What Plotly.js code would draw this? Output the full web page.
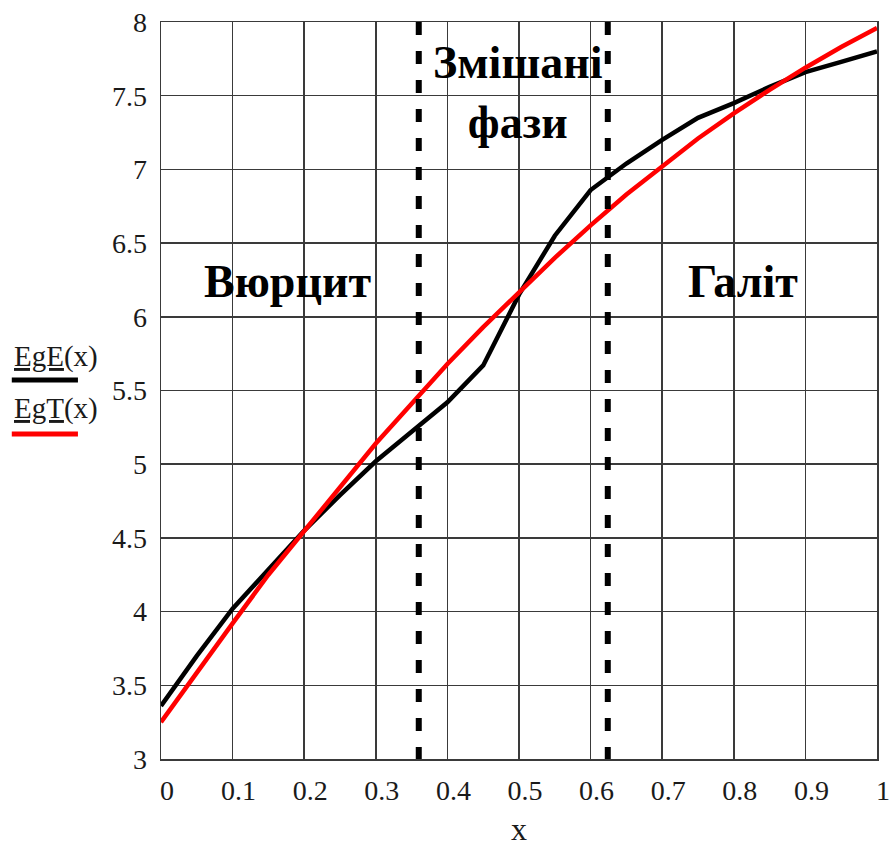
<!DOCTYPE html>
<html>
<head>
<meta charset="utf-8">
<script src="https://cdn.plot.ly/plotly-3.0.1.min.js"></script>
<style>
  html, body { margin: 0; padding: 0; background: #fff; }
  #chart { width: 891px; height: 847px; }
</style>
</head>
<body>
<div id="chart"></div>
<script>
// Composition x and band-gap values (eV)
const xValues = [0, 0.05, 0.1, 0.15, 0.2, 0.25, 0.3, 0.35, 0.4, 0.45, 0.5,
                 0.55, 0.6, 0.65, 0.7, 0.75, 0.8, 0.85, 0.9, 0.95, 1];
// Experimental band gap EgE(x)
const egE = [3.36, 3.70, 4.02, 4.29, 4.55, 4.79, 5.02, 5.22, 5.42, 5.67, 6.15,
             6.55, 6.86, 7.04, 7.20, 7.35, 7.45, 7.56, 7.66, 7.73, 7.80];
// Theoretical band gap EgT(x)
const egT = [3.25, 3.59, 3.92, 4.25, 4.55, 4.85, 5.14, 5.41, 5.68, 5.93, 6.17,
             6.40, 6.62, 6.83, 7.02, 7.21, 7.38, 7.54, 7.69, 7.83, 7.96];
const seriesNames = ['EgE(x)', 'EgT(x)'];
// Phase boundaries: wurtzite | mixed phases | rock salt
const phaseBounds = [0.36, 0.624];
const phaseLabels = ['Вюрцит', 'Змішані<br>фази', 'Галіт'];

const serif = 'Liberation Serif, Times New Roman, serif';
const textColor = '#1a1a1a';
const gridColor = '#3a3a3a';

const traces = [
  { x: xValues, y: egE, name: seriesNames[0], mode: 'lines',
    line: { color: '#000000', width: 4.5 } },
  { x: xValues, y: egT, name: seriesNames[1], mode: 'lines',
    line: { color: '#ff0000', width: 4.5 } }
];

const shapes = phaseBounds.map(b => ({
  type: 'line', xref: 'x', yref: 'y', x0: b, x1: b, y0: 8, y1: 3,
  line: { color: '#000000', width: 6, dash: '13px,16px' }
}));
// Legend swatches left of the axis
shapes.push({ type: 'line', xref: 'paper', yref: 'paper', x0: -0.2084, x1: -0.116,
  y0: 0.5142, y1: 0.5142, line: { color: '#000000', width: 5 } });
shapes.push({ type: 'line', xref: 'paper', yref: 'paper', x0: -0.2084, x1: -0.116,
  y0: 0.441, y1: 0.441, line: { color: '#ff0000', width: 5 } });

const labelFont = { family: serif, size: 46, color: '#000000', weight: 'bold' };
const annotations = [
  { x: 0.176, y: 6.24, text: '<b>' + phaseLabels[0] + '</b>' },
  { x: 0.498, y: 7.52, text: '<b>' + phaseLabels[1] + '</b>' },
  { x: 0.8126, y: 6.24, text: '<b>' + phaseLabels[2] + '</b>' }
].map(a => Object.assign({ xref: 'x', yref: 'y', showarrow: false,
  xanchor: 'center', yanchor: 'middle', font: labelFont }, a));

const legendFont = { family: serif, size: 29, color: textColor };
seriesNames.forEach((n, i) => {
  const m = n.match(/^(\w+)(.*)$/);
  annotations.push({
    xref: 'paper', yref: 'paper', x: -0.2084, y: i === 0 ? 0.546 : 0.4755,
    xanchor: 'left', yanchor: 'middle', showarrow: false,
    text: '<u>' + m[1] + '</u>' + m[2], font: legendFont
  });
});

const layout = {
  width: 891, height: 847,
  margin: { l: 161, r: 14, t: 22, b: 88 },
  paper_bgcolor: '#ffffff', plot_bgcolor: '#ffffff',
  showlegend: false,
  font: { family: serif, color: textColor },
  xaxis: {
    range: [0, 1], dtick: 0.1, tick0: 0, showgrid: true,
    gridcolor: gridColor, gridwidth: 1.5, zeroline: false,
    showline: true, linecolor: gridColor, linewidth: 1.5, mirror: true,
    ticks: '', tickfont: { family: serif, size: 28, color: textColor },
    ticklabelshift: 6, ticklabelstandoff: 6, automargin: false,
    title: { text: 'x', font: { family: serif, size: 32, color: textColor }, standoff: 30 }
  },
  yaxis: {
    range: [3, 8], dtick: 0.5, tick0: 3, showgrid: true,
    gridcolor: gridColor, gridwidth: 1.5, zeroline: false,
    showline: true, linecolor: gridColor, linewidth: 1.5, mirror: true,
    ticks: '', tickfont: { family: serif, size: 28, color: textColor },
    ticklabelstandoff: 7
  },
  shapes: shapes,
  annotations: annotations
};

Plotly.newPlot('chart', traces, layout, { displayModeBar: false, staticPlot: true });
</script>
</body>
</html>
